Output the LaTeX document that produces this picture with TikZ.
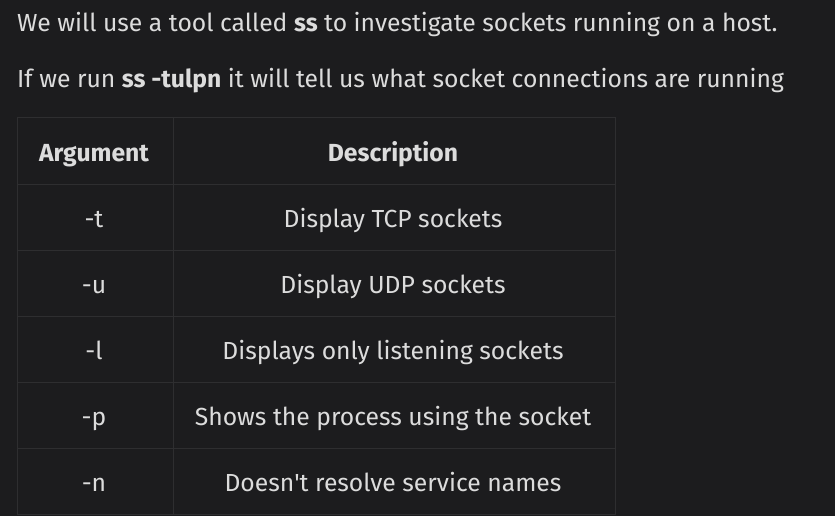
\documentclass[tikz,border=0pt]{standalone}
\usepackage{fontspec}
\setmainfont{Fira Sans}
\definecolor{bg}{HTML}{1C1C1E}
\definecolor{fg}{HTML}{DCDCDC}
\definecolor{gridc}{HTML}{2E2E30}
\begin{document}
\begin{tikzpicture}[x=1pt,y=-1pt,
  txt/.style={text=fg, inner sep=0pt, font=\fontsize{24.7}{29}\selectfont},
  cell/.style={txt, anchor=base},
  head/.style={cell, font=\fontsize{24.7}{29}\selectfont\bfseries},
  gridline/.style={draw=gridc, line width=1pt}]
\fill[bg] (0,0) rectangle (835,516);
\useasboundingbox (0,0) rectangle (835,516);
\node[txt, anchor=base west] (l1) at (17,31.5) {We will use a tool called \textbf{ss} to investigate sockets running on a host.};
\node[txt, anchor=base west] (l2) at (17,87.5) {If we run \textbf{ss -tulpn} it will tell us what socket connections are running};
% table grid
\draw[gridline] (17,118) rectangle (615,514);
\draw[gridline] (173,118) -- (173,514);
\foreach \yy in {184,250,316,382,448} \draw[gridline] (17,\yy) -- (615,\yy);
% header
\node[head] (h1) at (94,161) {Argument};
\node[head] (h2) at (393,161) {Description};
% rows
\node[cell] (a1) at (94,227) {-t};
\node[cell] (d1) at (393,227) {Display TCP sockets};
\node[cell] (a2) at (94,293) {-u};
\node[cell] (d2) at (393,293) {Display UDP sockets};
\node[cell] (a3) at (94,359) {-l};
\node[cell] (d3) at (393,359) {Displays only listening sockets};
\node[cell] (a4) at (94,425) {-p};
\node[cell] (d4) at (393,425) {Shows the process using the socket};
\node[cell] (a5) at (94,491) {-n};
\node[cell] (d5) at (393,491) {Doesn\textquotesingle t resolve service names};
\end{tikzpicture}
\end{document}
